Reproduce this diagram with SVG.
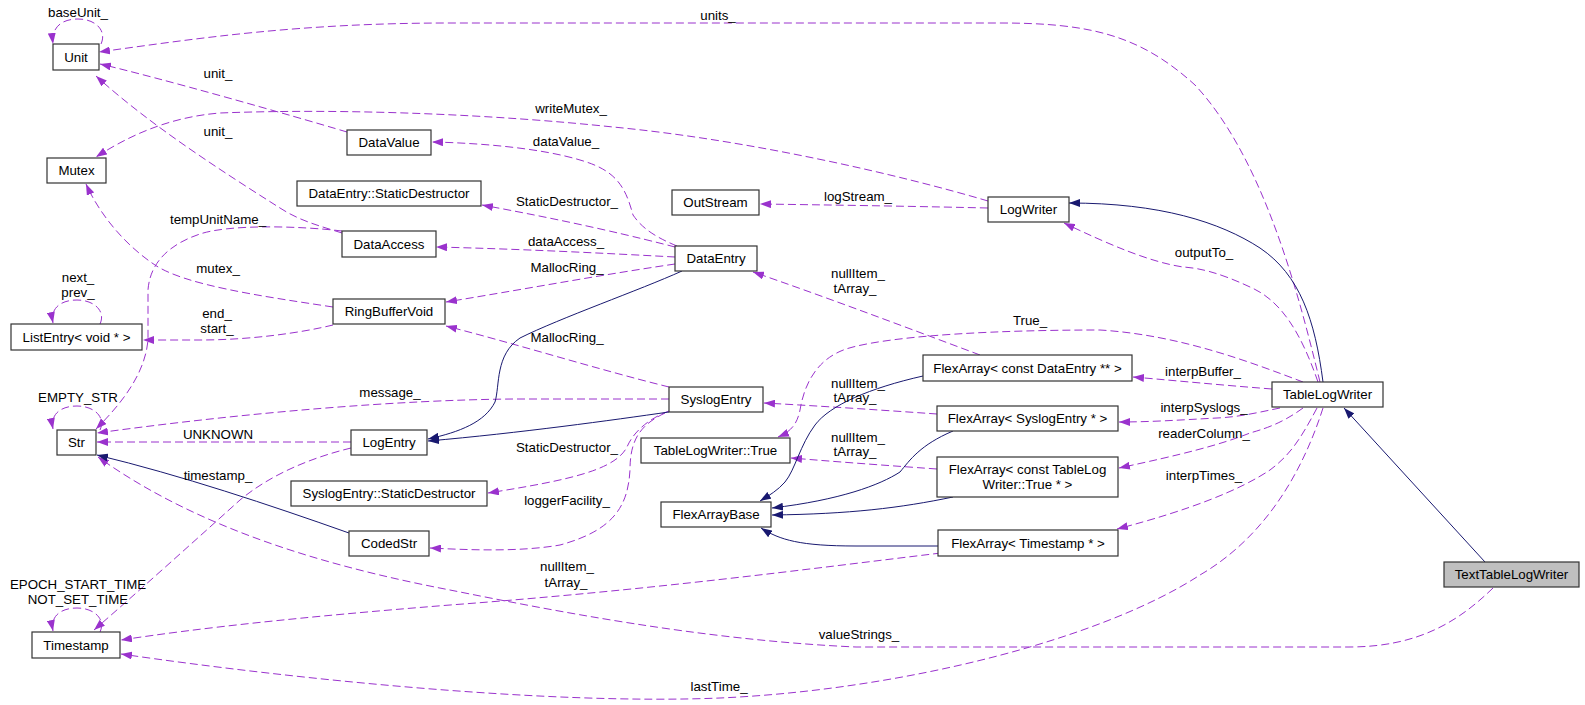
<svg xmlns="http://www.w3.org/2000/svg" width="1585" height="705" viewBox="0 0 1585 705">
<style>
text{font-family:"Liberation Sans",Helvetica,Arial,sans-serif;font-size:13.3px;fill:#000;text-anchor:middle}
.n rect{fill:#fff;stroke:#333;stroke-width:1.2}
.n.hl rect{fill:#bfbfbf}
.u{fill:none;stroke:#9a32cd;stroke-width:1;stroke-dasharray:8,4;marker-end:url(#ap)}
.i{fill:none;stroke:#191970;stroke-width:1;marker-end:url(#an)}
</style>
<defs>
<marker id="ap" viewBox="0 0 11 8" refX="11" refY="4" markerWidth="11" markerHeight="8" markerUnits="userSpaceOnUse" orient="auto"><path d="M0,0L11,4L0,8z" fill="#9a32cd"/></marker>
<marker id="an" viewBox="0 0 11 8" refX="11" refY="4" markerWidth="11" markerHeight="8" markerUnits="userSpaceOnUse" orient="auto"><path d="M0,0L11,4L0,8z" fill="#191970"/></marker>
</defs>
<rect width="1585" height="705" fill="#fff"/>
<g id="connectors">
<path class="u" d="M101,44 C107,31 96,19 78,19 C62,19 51,27 53,44"/>
<path class="u" d="M1320,382 C1300,300 1265,160 1195,85 C1140,35 1090,23 1000,23 L450,23 C300,23 200,38 99,52"/>
<path class="u" d="M347,132 C290,115 160,78 100,64"/>
<path class="u" d="M342,233 C320,226 300,221 280,208 C220,170 150,125 96,76"/>
<path class="u" d="M988,201 C900,175 750,140 613,127 C500,115 350,108 220,113 C170,117 130,135 96,157"/>
<path class="u" d="M677,246 C650,235 640,225 633,215 C625,185 615,170 580,160 C540,148 480,143 432,142"/>
<path class="u" d="M675,247 C640,238 580,223 482,205"/>
<path class="u" d="M675,257 C600,253 520,249 436,247"/>
<path class="u" d="M675,264 C600,275 520,290 446,302"/>
<path class="u" d="M342,231 C300,226 230,224 200,234 C170,244 150,262 148,290 L148,340 C145,375 120,405 96,429"/>
<path class="u" d="M333,307 C260,296 185,285 155,265 C125,245 100,215 86,184"/>
<path class="u" d="M333,325 C300,333 250,340 200,340 L143,340"/>
<path class="u" d="M100,324 C106,311 94,300 77,300 C61,300 50,308 53,323"/>
<path class="u" d="M100,430 C106,417 94,406 77,406 C61,406 50,414 53,429"/>
<path class="u" d="M100,632 C106,619 94,608 77,608 C61,608 50,616 53,631"/>
<path class="u" d="M669,399 L513,399 C400,400 250,412 97,433"/>
<path class="u" d="M351,442 L97,442"/>
<path class="u" d="M351,448 C310,458 270,475 240,500 C190,545 140,590 94,630"/>
<path class="u" d="M669,387 C600,370 520,345 446,326"/>
<path class="u" d="M669,411 C645,420 632,435 627,447 C615,470 570,480 488,493"/>
<path class="u" d="M665,413 C640,425 630,440 630,470 C628,505 615,530 560,545 C520,552 470,550 430,548"/>
<path class="u" d="M980,355 C900,325 820,295 753,272"/>
<path class="u" d="M1303,382 C1250,362 1180,335 1100,330 C1000,330 900,335 853,347 C820,355 805,380 800,410 C797,425 790,432 778,437"/>
<path class="u" d="M937,414 C880,410 820,406 764,403"/>
<path class="u" d="M937,469 C880,465 840,462 791,458"/>
<path class="u" d="M941,553 C800,570 650,590 450,605 C300,617 200,628 121,640"/>
<path class="u" d="M1318,382 C1300,330 1280,300 1250,287 C1220,273 1200,268 1183,267 C1150,262 1110,245 1064,223"/>
<path class="u" d="M988,208 C900,206 830,205 760,204"/>
<path class="u" d="M1272,389 C1220,385 1180,381 1133,377"/>
<path class="u" d="M1280,408 C1260,412 1240,417 1217,418 C1180,420 1150,422 1119,422"/>
<path class="u" d="M1303,408 C1280,425 1260,430 1250,433 C1220,445 1180,455 1119,468"/>
<path class="u" d="M1317,408 C1300,440 1290,455 1270,470 C1240,490 1190,510 1117,529"/>
<path class="u" d="M1323,408 C1300,480 1260,540 1200,575 C1100,640 900,690 720,698 C550,705 300,680 121,654"/>
<path class="u" d="M1493,588 C1460,620 1420,647 1349,647 L856,647 C700,640 550,610 450,590 C330,567 200,530 98,457"/>
<path class="i" d="M1323,382 C1315,320 1300,275 1260,248 C1220,222 1160,203 1069,203"/>
<path class="i" d="M1485,562 L1344,408"/>
<path class="i" d="M682,271 C640,290 560,318 520,338 C495,355 500,385 495,402 C485,422 460,432 428,439"/>
<path class="i" d="M669,412 C613,420 520,433 428,441"/>
<path class="i" d="M349,533 C270,505 180,475 97,455"/>
<path class="i" d="M923,376 C870,388 830,405 815,425 C800,445 795,470 785,482 C778,490 770,495 760,501"/>
<path class="i" d="M953,431 C920,445 910,460 900,472 C880,485 840,500 772,508"/>
<path class="i" d="M953,497 C900,508 850,514 772,515"/>
<path class="i" d="M941,546 L856,546 C800,546 780,540 761,528"/>
<g id="labels">
<text x="78" y="17">baseUnit_</text>
<text x="718" y="20">units_</text>
<text x="218" y="78">unit_</text>
<text x="218" y="136">unit_</text>
<text x="571" y="113">writeMutex_</text>
<text x="566" y="146">dataValue_</text>
<text x="567" y="206">StaticDestructor_</text>
<text x="566" y="246">dataAccess_</text>
<text x="567" y="272">MallocRing_</text>
<text x="218" y="224">tempUnitName_</text>
<text x="218" y="273">mutex_</text>
<text x="217" y="318">end_</text>
<text x="217" y="333">start_</text>
<text x="78" y="282">next_</text>
<text x="78" y="297">prev_</text>
<text x="78" y="402">EMPTY_STR</text>
<text x="78" y="589">EPOCH_START_TIME</text>
<text x="78" y="604">NOT_SET_TIME</text>
<text x="390" y="397">message_</text>
<text x="218" y="439">UNKNOWN</text>
<text x="218" y="480">timestamp_</text>
<text x="567" y="342">MallocRing_</text>
<text x="567" y="452">StaticDestructor_</text>
<text x="567" y="505">loggerFacility_</text>
<text x="858" y="278">nullItem_</text>
<text x="855" y="293">tArray_</text>
<text x="1030" y="325">True_</text>
<text x="858" y="388">nullItem_</text>
<text x="855" y="402">tArray_</text>
<text x="858" y="442">nullItem_</text>
<text x="855" y="456">tArray_</text>
<text x="567" y="571">nullItem_</text>
<text x="566" y="587">tArray_</text>
<text x="1204" y="257">outputTo_</text>
<text x="858" y="201">logStream_</text>
<text x="1203" y="376">interpBuffer_</text>
<text x="1204" y="412">interpSyslogs_</text>
<text x="1204" y="438">readerColumn_</text>
<text x="1204" y="480">interpTimes_</text>
<text x="719" y="691">lastTime_</text>
<text x="859" y="639">valueStrings_</text>
</g>
</g>
<g id="Unit" class="n"><rect x="53" y="44" width="46" height="26"/><text x="76" y="61.5">Unit</text></g>
<g id="Mutex" class="n"><rect x="47" y="158" width="59" height="25"/><text x="76.5" y="175">Mutex</text></g>
<g id="DataValue" class="n"><rect x="347" y="130" width="84" height="25"/><text x="389" y="147">DataValue</text></g>
<g id="DataEntry_StaticDestructor" class="n"><rect x="297" y="181" width="184" height="25"/><text x="389" y="198">DataEntry::StaticDestructor</text></g>
<g id="DataAccess" class="n"><rect x="342" y="231" width="94" height="26"/><text x="389" y="248.5">DataAccess</text></g>
<g id="RingBufferVoid" class="n"><rect x="333" y="299" width="112" height="25"/><text x="389" y="316">RingBufferVoid</text></g>
<g id="DataEntry" class="n"><rect x="675" y="246" width="82" height="25"/><text x="716" y="263">DataEntry</text></g>
<g id="OutStream" class="n"><rect x="672" y="190" width="87" height="25"/><text x="715.5" y="207">OutStream</text></g>
<g id="LogWriter" class="n"><rect x="988" y="197" width="81" height="25"/><text x="1028.5" y="214">LogWriter</text></g>
<g id="ListEntry" class="n"><rect x="11" y="324" width="131" height="26"/><text x="76.5" y="341.5">ListEntry&lt; void * &gt;</text></g>
<g id="Str" class="n"><rect x="57" y="430" width="39" height="25"/><text x="76.5" y="447">Str</text></g>
<g id="LogEntry" class="n"><rect x="351" y="430" width="76" height="25"/><text x="389" y="447">LogEntry</text></g>
<g id="SyslogEntry" class="n"><rect x="669" y="387" width="94" height="25"/><text x="716" y="404">SyslogEntry</text></g>
<g id="SyslogEntry_StaticDestructor" class="n"><rect x="291" y="481" width="196" height="25"/><text x="389" y="498">SyslogEntry::StaticDestructor</text></g>
<g id="CodedStr" class="n"><rect x="349" y="531" width="80" height="25"/><text x="389" y="548">CodedStr</text></g>
<g id="TableLogWriter_True" class="n"><rect x="641" y="438" width="149" height="25"/><text x="715.5" y="455">TableLogWriter::True</text></g>
<g id="FlexArrayBase" class="n"><rect x="661" y="502" width="110" height="25"/><text x="716" y="519">FlexArrayBase</text></g>
<g id="FlexArray_DataEntry" class="n"><rect x="923" y="355" width="209" height="26"/><text x="1027.5" y="372.5">FlexArray&lt; const DataEntry ** &gt;</text></g>
<g id="FlexArray_SyslogEntry" class="n"><rect x="937" y="406" width="181" height="25"/><text x="1027.5" y="423">FlexArray&lt; SyslogEntry * &gt;</text></g>
<g id="FlexArray_True" class="n"><rect x="937" y="457" width="181" height="40"/><text x="1027.5" y="474">FlexArray&lt; const TableLog</text><text x="1027.5" y="489">Writer::True * &gt;</text></g>
<g id="FlexArray_Timestamp" class="n"><rect x="938" y="530" width="180" height="26"/><text x="1028" y="547.5">FlexArray&lt; Timestamp * &gt;</text></g>
<g id="TableLogWriter" class="n"><rect x="1272" y="382" width="111" height="25"/><text x="1327.5" y="399">TableLogWriter</text></g>
<g id="TextTableLogWriter" class="n hl"><rect x="1444" y="562" width="135" height="25"/><text x="1511.5" y="579">TextTableLogWriter</text></g>
<g id="Timestamp" class="n"><rect x="32" y="632" width="88" height="26"/><text x="76" y="649.5">Timestamp</text></g>
</svg>
